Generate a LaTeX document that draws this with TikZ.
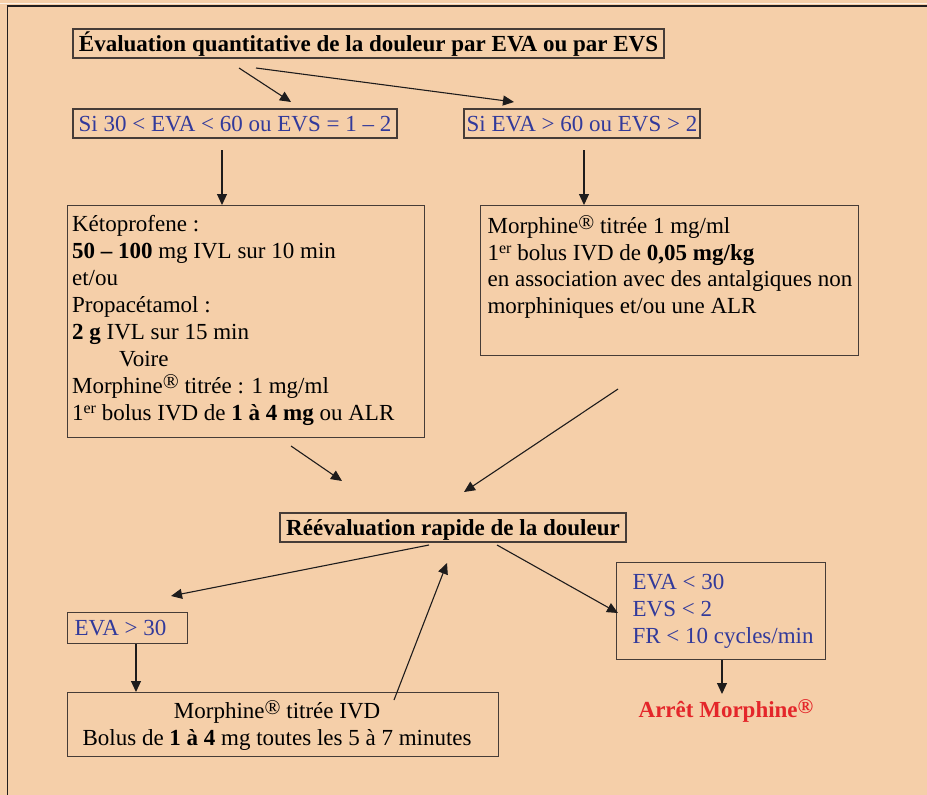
\documentclass[tikz,border=0pt]{standalone}
\usepackage{fontspec}
\setmainfont{Liberation Serif}
\usetikzlibrary{arrows.meta}
\definecolor{peach}{RGB}{245,207,169}
\definecolor{boxc}{RGB}{70,60,55}
\definecolor{arrc}{RGB}{30,28,28}
\definecolor{bluet}{RGB}{50,58,155}
\definecolor{redt}{RGB}{228,38,42}
\definecolor{framec}{RGB}{35,30,30}
\definecolor{lightl}{RGB}{252,240,228}
\newcommand{\fnt}{\fontsize{23}{27}\selectfont}
\newcommand{\regm}{\raisebox{4.5pt}{\fontsize{21}{15}\selectfont ®}}
\newcommand{\supr}[1]{\raisebox{7pt}{\fontsize{16}{15}\selectfont #1}}
\begin{document}
\begin{tikzpicture}[x=1pt,y=-1pt,
  box/.style={draw=boxc,line width=1.2pt,inner sep=0pt,font=\fnt},
  sline/.style={box,text height=21.6pt,text depth=5pt},
  arr/.style={draw=arrc,line width=1.1pt,-{Triangle[length=11pt,width=10pt]}},
  ]
\fill[peach] (0,0) rectangle (927,795);
\useasboundingbox (0,0) rectangle (927,795);
\draw[lightl,line width=1pt] (0,3.3) -- (927,3.3);
\draw[framec,line width=2.2pt] (6.7,6.2) -- (927,6.2);
\draw[framec,line width=1.3pt] (7.3,6.2) -- (7.3,795);

% nodes
\node[sline,minimum width=591pt,minimum height=29pt,font=\fnt\bfseries] (title) at (368.5,43.5)
  {Évaluation quantitative de la douleur par EVA ou par EVS};
\node[sline,minimum width=324pt,minimum height=29pt,text=bluet] (siA) at (235,123.5)
  {Si 30 < EVA < 60 ou EVS = 1 – 2};
\node[sline,minimum width=236pt,minimum height=29pt,text=bluet] (siB) at (582,123.5)
  {Si EVA > 60 ou EVS > 2};

\node[box,anchor=north west] (keto) at (67,205)
  {\parbox[c][232pt][t]{357pt}{\raggedright\leftskip=4.5pt\relax
   \rule{0pt}{25.7pt}\mbox{Kétoprofene :}\\
   \mbox{\textbf{50 – 100} mg IVL sur 10 min}\\
   \mbox{et/ou}\\
   \mbox{Propacétamol :}\\
   \mbox{\textbf{2 g} IVL sur 15 min}\\
   \mbox{\hspace*{47pt}Voire}\\
   \mbox{Morphine\regm{} titrée : 1 mg/ml}\\
   \mbox{1\supr{er} bolus IVD de \textbf{1 à 4 mg} ou ALR}}};

\node[box,anchor=north west] (morph) at (480,205)
  {\parbox[c][150pt][t]{378pt}{\fontsize{23}{26.5}\selectfont\raggedright\leftskip=7pt\relax
   \rule{0pt}{28pt}\mbox{Morphine\regm{} titrée 1 mg/ml}\\
   \mbox{1\supr{er} bolus IVD de \textbf{0,05 mg/kg}}\\
   \mbox{en association avec des antalgiques non}\\
   \mbox{morphiniques et/ou une ALR}}};

\node[sline,minimum width=346pt,minimum height=29pt,font=\fnt\bfseries] (reeval) at (453,527.5)
  {Réévaluation rapide de la douleur};

\node[box,anchor=north west,text=bluet] (eva30) at (67,612)
  {\parbox[c][31pt][t]{120pt}{\raggedright\leftskip=7pt\relax
   \rule{0pt}{23pt}\mbox{EVA > 30}}};

\node[box,anchor=north west] (bolus) at (67,692)
  {\parbox[c][64pt][t]{431pt}{\centering\leftskip=0pt plus 1fil\rightskip=12pt plus 1fil\relax
   \rule{0pt}{26pt}\mbox{Morphine\regm{} titrée IVD}\\
   \mbox{Bolus de \textbf{1 à 4} mg toutes les 5 à 7 minutes}}};

\node[box,anchor=north west,text=bluet] (evaless) at (616,562)
  {\parbox[c][97pt][t]{209pt}{\raggedright\leftskip=16pt\relax
   \rule{0pt}{27pt}EVA < 30\\
   EVS < 2\\
   \mbox{FR < 10 cycles/min}}};

\node[text=redt,font=\fnt\bfseries,inner sep=0pt,text height=21.6pt,text depth=5pt] (arret) at (726,709.4)
  {Arrêt Morphine\regm};

% connectors
\coordinate (a1s) at (239,68);  \coordinate (a1e) at (291,102);
\coordinate (a2s) at (256,68);  \coordinate (a2e) at (514,102);
\coordinate (a3s) at (222,150);
\coordinate (a4s) at (584,150);
\coordinate (a5s) at (291,446); \coordinate (a5e) at (342,481);
\coordinate (a6s) at (618,389); \coordinate (a6e) at (464,492);
\coordinate (a7s) at (429,545); \coordinate (a7e) at (171,596);
\coordinate (a8s) at (394,700); \coordinate (a8e) at (447,563);
\coordinate (a9s) at (497,545); \coordinate (a9e) at (618,613);
\coordinate (a10e) at (722,694);
\coordinate (a11x) at (136,692);

\draw[arr] (a1s) -- (a1e);
\draw[arr] (a2s) -- (a2e);
\draw[arr] (a3s) -- (a3s |- keto.north);
\draw[arr] (a4s) -- (a4s |- morph.north);
\draw[arr] (a5s) -- (a5e);
\draw[arr] (a6s) -- (a6e);
\draw[arr] (a7s) -- (a7e);
\draw[arr] (a8s) -- (a8e);
\draw[arr] (a9s) -- (a9e);
\draw[arr] (a10e |- evaless.south) -- (a10e);
\draw[arr] (a11x |- eva30.south) -- (a11x |- bolus.north);
\end{tikzpicture}
\end{document}
